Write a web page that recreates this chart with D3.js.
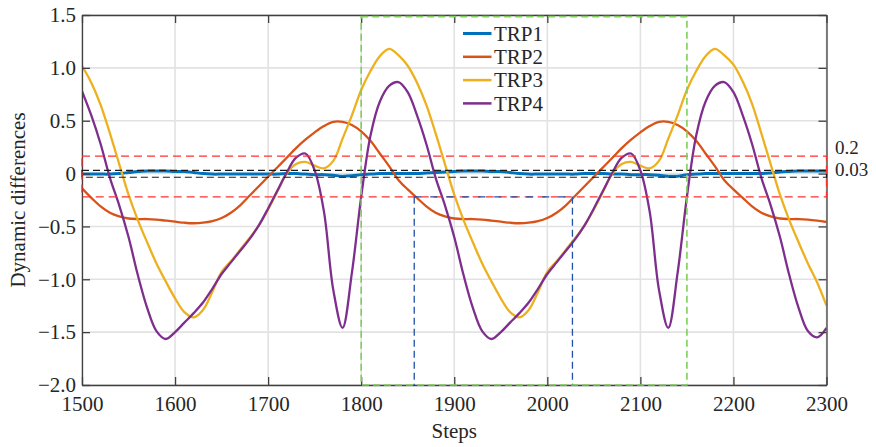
<!DOCTYPE html>
<html>
<head>
<meta charset="utf-8">
<script src="https://cdn.jsdelivr.net/npm/d3@7"></script>
<style>
  html, body { margin: 0; padding: 0; background: #fff; }
  svg { display: block; font-family: "Liberation Serif", "Times New Roman", serif; }
</style>
</head>
<body>
<svg id="chart" width="876" height="447"></svg>
<script>
// ---------------- data ----------------
const steps = d3.range(1500, 2301, 10);
const seriesNames = ["TRP1", "TRP2", "TRP3", "TRP4"];
const seriesColors = ["#0072BD", "#D95319", "#EDB120", "#7E2F8E"];

const trp1 = [
  -0.005,-0.005,-0.005,-0.005,0.0,0.01,0.02,0.025,0.025,0.025,
  0.02,0.02,0.01,0.0,-0.005,-0.005,-0.005,-0.005,-0.005,-0.005,
  -0.005,-0.005,0.0,0.0,-0.005,-0.01,-0.01,-0.015,-0.025,-0.02,
  -0.01,-0.005,0.0,0.0,0.0,0.0,0.0,0.005,0.01,0.015,
  0.02,0.025,0.025,0.025,0.02,0.02,0.01,0.0,-0.005,-0.005,
  -0.005,-0.005,-0.005,-0.005,0.0,0.0,0.0,-0.005,-0.005,-0.01,
  -0.01,-0.01,-0.015,-0.025,-0.025,-0.01,-0.005,0.0,0.0,0.0,
  0.0,0.0,0.0,0.0,0.005,0.015,0.02,0.025,0.025,0.025,
  0.025
];
const trp2 = [
  -0.14,-0.23,-0.31,-0.37,-0.405,-0.425,-0.43,-0.43,-0.435,-0.445,
  -0.455,-0.465,-0.47,-0.465,-0.45,-0.42,-0.37,-0.30,-0.21,-0.12,
  -0.03,0.06,0.15,0.24,0.32,0.39,0.45,0.49,0.49,0.46,
  0.40,0.31,0.19,0.07,-0.06,
  -0.15,-0.23,-0.31,-0.37,-0.405,-0.425,-0.43,-0.43,-0.435,-0.445,
  -0.455,-0.465,-0.47,-0.465,-0.45,-0.42,-0.37,-0.30,-0.21,-0.12,
  -0.03,0.06,0.15,0.24,0.32,0.39,0.45,0.49,0.49,0.46,
  0.40,0.31,0.19,0.07,-0.06,
  -0.15,-0.23,-0.31,-0.37,-0.405,-0.425,-0.43,-0.43,-0.435,-0.445,
  -0.458
];
const trp3 = [
  1.02,0.86,0.65,0.38,0.09,-0.20,-0.44,-0.65,-0.85,-1.02,
  -1.18,-1.31,-1.36,-1.29,-1.12,-0.93,-0.83,-0.72,-0.61,-0.49,
  -0.34,-0.17,0.0,0.09,0.11,0.075,0.05,0.12,0.33,0.55,
  0.79,0.97,1.11,1.18,1.12,
  1.02,0.86,0.65,0.38,0.09,-0.20,-0.44,-0.65,-0.85,-1.02,
  -1.18,-1.31,-1.36,-1.29,-1.12,-0.93,-0.83,-0.72,-0.61,-0.49,
  -0.34,-0.17,0.0,0.09,0.11,0.075,0.05,0.12,0.33,0.55,
  0.79,0.97,1.11,1.18,1.12,
  1.03,0.87,0.66,0.38,0.09,-0.20,-0.44,-0.65,-0.85,-1.03,
  -1.25
];
const trp4 = [
  0.78,0.55,0.28,-0.04,-0.30,-0.60,-0.96,-1.27,-1.49,-1.565,
  -1.50,-1.41,-1.32,-1.22,-1.09,-0.95,-0.84,-0.73,-0.62,-0.49,
  -0.33,-0.16,0.01,0.15,0.19,0.03,-0.36,-1.10,-1.46,-0.94,
  -0.22,0.36,0.68,0.83,0.865,
  0.77,0.55,0.28,-0.04,-0.30,-0.60,-0.96,-1.27,-1.49,-1.565,
  -1.50,-1.41,-1.32,-1.22,-1.09,-0.95,-0.84,-0.73,-0.62,-0.49,
  -0.33,-0.16,0.01,0.15,0.19,0.03,-0.36,-1.10,-1.46,-0.94,
  -0.22,0.36,0.68,0.83,0.865,
  0.77,0.55,0.28,-0.04,-0.30,-0.60,-0.96,-1.27,-1.49,-1.55,
  -1.46
];
const seriesValues = [trp1, trp2, trp3, trp4];

const xTicks = [1500, 1600, 1700, 1800, 1900, 2000, 2100, 2200, 2300];
const xTickLabels = ["1500","1600","1700","1800","1900","2000","2100","2200","2300"];
const yTicks = [-2.0, -1.5, -1.0, -0.5, 0, 0.5, 1.0, 1.5];
const yTickLabels = ["\u22122.0","\u22121.5","\u22121.0","\u22120.5","0","0.5","1.0","1.5"];

// reference bands and boxes
const redBand = [0.165, -0.22];
const blackBand = [0.03, -0.035];
const greenBox = [1800, 2150];
const blueMarks = [1857, 2027];
const blueLevel = -0.22;
const bandLabels = ["0.2", "0.03"];

// ---------------- layout ----------------
const svg = d3.select("#chart");
const L = 82, R = 826.5, T = 15, B = 385;
const x = d3.scaleLinear().domain([1500, 2300]).range([L, R]);
const y = d3.scaleLinear().domain([-2, 1.5]).range([B, T]);
const FS = 21;
const axisColor = "#404040";
const textColor = "#262626";

// grid
const grid = svg.append("g");
grid.selectAll(".gx").data(xTicks).join("line")
  .attr("x1", d => x(d)).attr("x2", d => x(d)).attr("y1", T).attr("y2", B)
  .attr("stroke", "#e2e2e2").attr("stroke-width", 1.6);
grid.selectAll(".gy").data(yTicks).join("line")
  .attr("x1", L).attr("x2", R).attr("y1", d => y(d)).attr("y2", d => y(d))
  .attr("stroke", "#e2e2e2").attr("stroke-width", 1.6);

// clip
svg.append("defs").append("clipPath").attr("id", "clip")
  .append("rect").attr("x", L).attr("y", T).attr("width", R - L).attr("height", B - T);

// curves
const line = d3.line().x((d, i) => x(steps[i])).y(d => y(d)).curve(d3.curveCatmullRom.alpha(0.5));
const curves = svg.append("g").attr("clip-path", "url(#clip)");
seriesValues.forEach((vals, k) => {
  curves.append("path").datum(vals)
    .attr("d", line)
    .attr("fill", "none")
    .attr("stroke", seriesColors[k])
    .attr("stroke-width", k === 0 ? 3 : 2.3)
    .attr("stroke-linejoin", "round");
});

// dashed overlays
const ov = svg.append("g");
function dashRect(g, x0, x1, y0, y1, color, w, dash) {
  g.append("rect")
    .attr("x", Math.min(x0, x1)).attr("y", Math.min(y0, y1))
    .attr("width", Math.abs(x1 - x0)).attr("height", Math.abs(y1 - y0))
    .attr("fill", "none").attr("stroke", color).attr("stroke-width", w)
    .attr("stroke-dasharray", dash);
}
dashRect(ov, x(1500), x(2300), y(blackBand[0]), y(blackBand[1]), "#1a1a1a", 1.2, "7,4");
dashRect(ov, x(1500), x(2300), y(redBand[0]), y(redBand[1]), "#ff3030", 1.3, "8,5");
ov.selectAll(".bv").data(blueMarks).join("line")
  .attr("x1", d => x(d)).attr("x2", d => x(d))
  .attr("y1", y(blueLevel)).attr("y2", B)
  .attr("stroke", "#2050a8").attr("stroke-width", 1.3).attr("stroke-dasharray", "7,4");
ov.append("line")
  .attr("x1", x(blueMarks[0])).attr("x2", x(blueMarks[1]))
  .attr("y1", y(blueLevel)).attr("y2", y(blueLevel))
  .attr("stroke", "#2050a8").attr("stroke-width", 1.3).attr("stroke-dasharray", "7,9");

// axes (box with inward ticks)
function styleAxis(g) {
  g.selectAll("path.domain").attr("stroke", axisColor).attr("stroke-width", 1.3);
  g.selectAll(".tick line").attr("stroke", axisColor).attr("stroke-width", 1.3);
  g.selectAll("text").attr("fill", textColor).style("font-size", FS + "px")
    .style("font-family", '"Liberation Serif", serif');
}
const xAxis = svg.append("g").attr("transform", `translate(0,${B})`)
  .call(d3.axisBottom(x).tickValues(xTicks).tickFormat((d, i) => xTickLabels[i])
    .tickSize(-8).tickSizeOuter(0).tickPadding(11));
styleAxis(xAxis);
const yAxis = svg.append("g").attr("transform", `translate(${L},0)`)
  .call(d3.axisLeft(y).tickValues(yTicks).tickFormat((d, i) => yTickLabels[i])
    .tickSize(-8).tickSizeOuter(0).tickPadding(6));
styleAxis(yAxis);
yAxis.selectAll("text").attr("dy", "0.32em");
const xTop = svg.append("g").attr("transform", `translate(0,${T})`)
  .call(d3.axisTop(x).tickValues(xTicks).tickFormat("").tickSize(-8).tickSizeOuter(0));
styleAxis(xTop);
const yRight = svg.append("g").attr("transform", `translate(${R},0)`)
  .call(d3.axisRight(y).tickValues(yTicks).tickFormat("").tickSize(-8).tickSizeOuter(0));
styleAxis(yRight);

// green dashed box (over axes)
dashRect(ov.raise(), x(greenBox[0]), x(greenBox[1]), y(1.485), y(-2.0), "#7fcf5a", 1.6, "7,4");

// band labels
svg.selectAll(".bl").data(bandLabels).join("text")
  .attr("x", 835).attr("y", (d, i) => i === 0 ? 154 : 176)
  .attr("fill", textColor).style("font-size", "19px")
  .text(d => d);

// axis titles
svg.append("text").attr("x", (L + R) / 2).attr("y", 438)
  .attr("text-anchor", "middle").attr("fill", textColor).style("font-size", FS + "px")
  .text("Steps");
svg.append("text")
  .attr("transform", `translate(25,${(T + B) / 2}) rotate(-90)`)
  .attr("text-anchor", "middle").attr("fill", textColor).style("font-size", FS + "px")
  .text("Dynamic differences");

// legend
const lg = svg.append("g");
seriesNames.forEach((name, i) => {
  const yy = 33.5 + i * 23.3;
  lg.append("line").attr("x1", 463).attr("x2", 491.5).attr("y1", yy).attr("y2", yy)
    .attr("stroke", seriesColors[i]).attr("stroke-width", i === 0 ? 3 : 2.5);
  lg.append("text").attr("x", 494).attr("y", yy + 7.3)
    .attr("fill", textColor).style("font-size", FS + "px").text(name);
});
</script>
</body>
</html>
